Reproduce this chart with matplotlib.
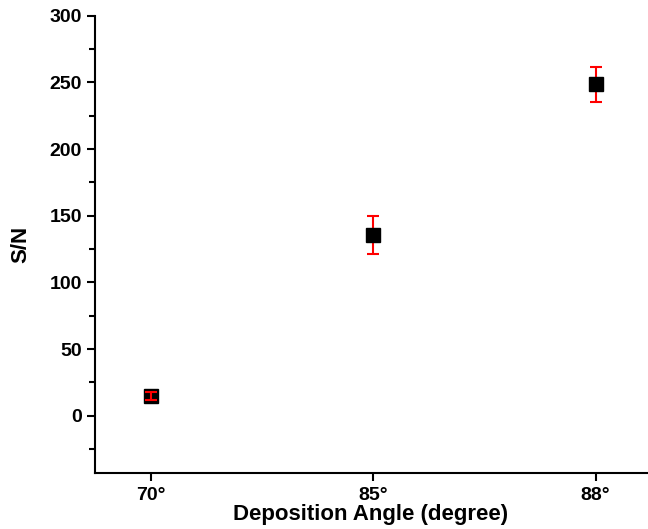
import matplotlib
matplotlib.use("Agg")
import matplotlib.pyplot as plt
from matplotlib.ticker import MultipleLocator

plt.rcParams['font.family'] = ['Liberation Sans', 'DejaVu Sans']
plt.rcParams['font.weight'] = 'bold'

# data
angles = ['70°', '85°', '88°']
sn = [14.5, 135.5, 248.5]
sn_err = [3.0, 14.0, 13.5]

fig = plt.figure(figsize=(6.48, 5.29), dpi=100)
ax = fig.add_axes([0.147, 0.106, 0.851, 0.864])

pos = list(range(len(angles)))
ax.plot(pos, sn, 's', color='black', markersize=9.5, zorder=3)
# small bar of the first point shows over its marker
ax.errorbar(pos[:1], sn[:1], yerr=sn_err[:1], fmt='none', ecolor='red',
            elinewidth=1.5, capsize=4.6, capthick=1.5, zorder=4)
ax.errorbar(pos[1:], sn[1:], yerr=sn_err[1:], fmt='none', ecolor='red',
            elinewidth=1.5, capsize=4.6, capthick=1.5, zorder=2)

ax.set_xlim(-0.25, 2.23)
ax.set_ylim(-43, 300)
ax.set_xticks(pos)
ax.set_xticklabels(angles)
ax.yaxis.set_major_locator(MultipleLocator(50))
ax.yaxis.set_minor_locator(MultipleLocator(25))

for s in ['top', 'right']:
    ax.spines[s].set_visible(False)
for s in ['left', 'bottom']:
    ax.spines[s].set_linewidth(1.5)

ax.tick_params(axis='both', which='major', direction='out', length=6, width=1.5,
               labelsize=14)
ax.tick_params(axis='y', which='minor', direction='out', length=4, width=1.5)
ax.tick_params(axis='x', pad=4)

ax.set_xlabel('Deposition Angle (degree)', fontsize=16, fontweight='bold')
ax.xaxis.set_label_coords(0.5, -0.068)
ax.set_ylabel('S/N', fontsize=16, fontweight='bold', labelpad=13)

fig.savefig('out.png', dpi=100)
